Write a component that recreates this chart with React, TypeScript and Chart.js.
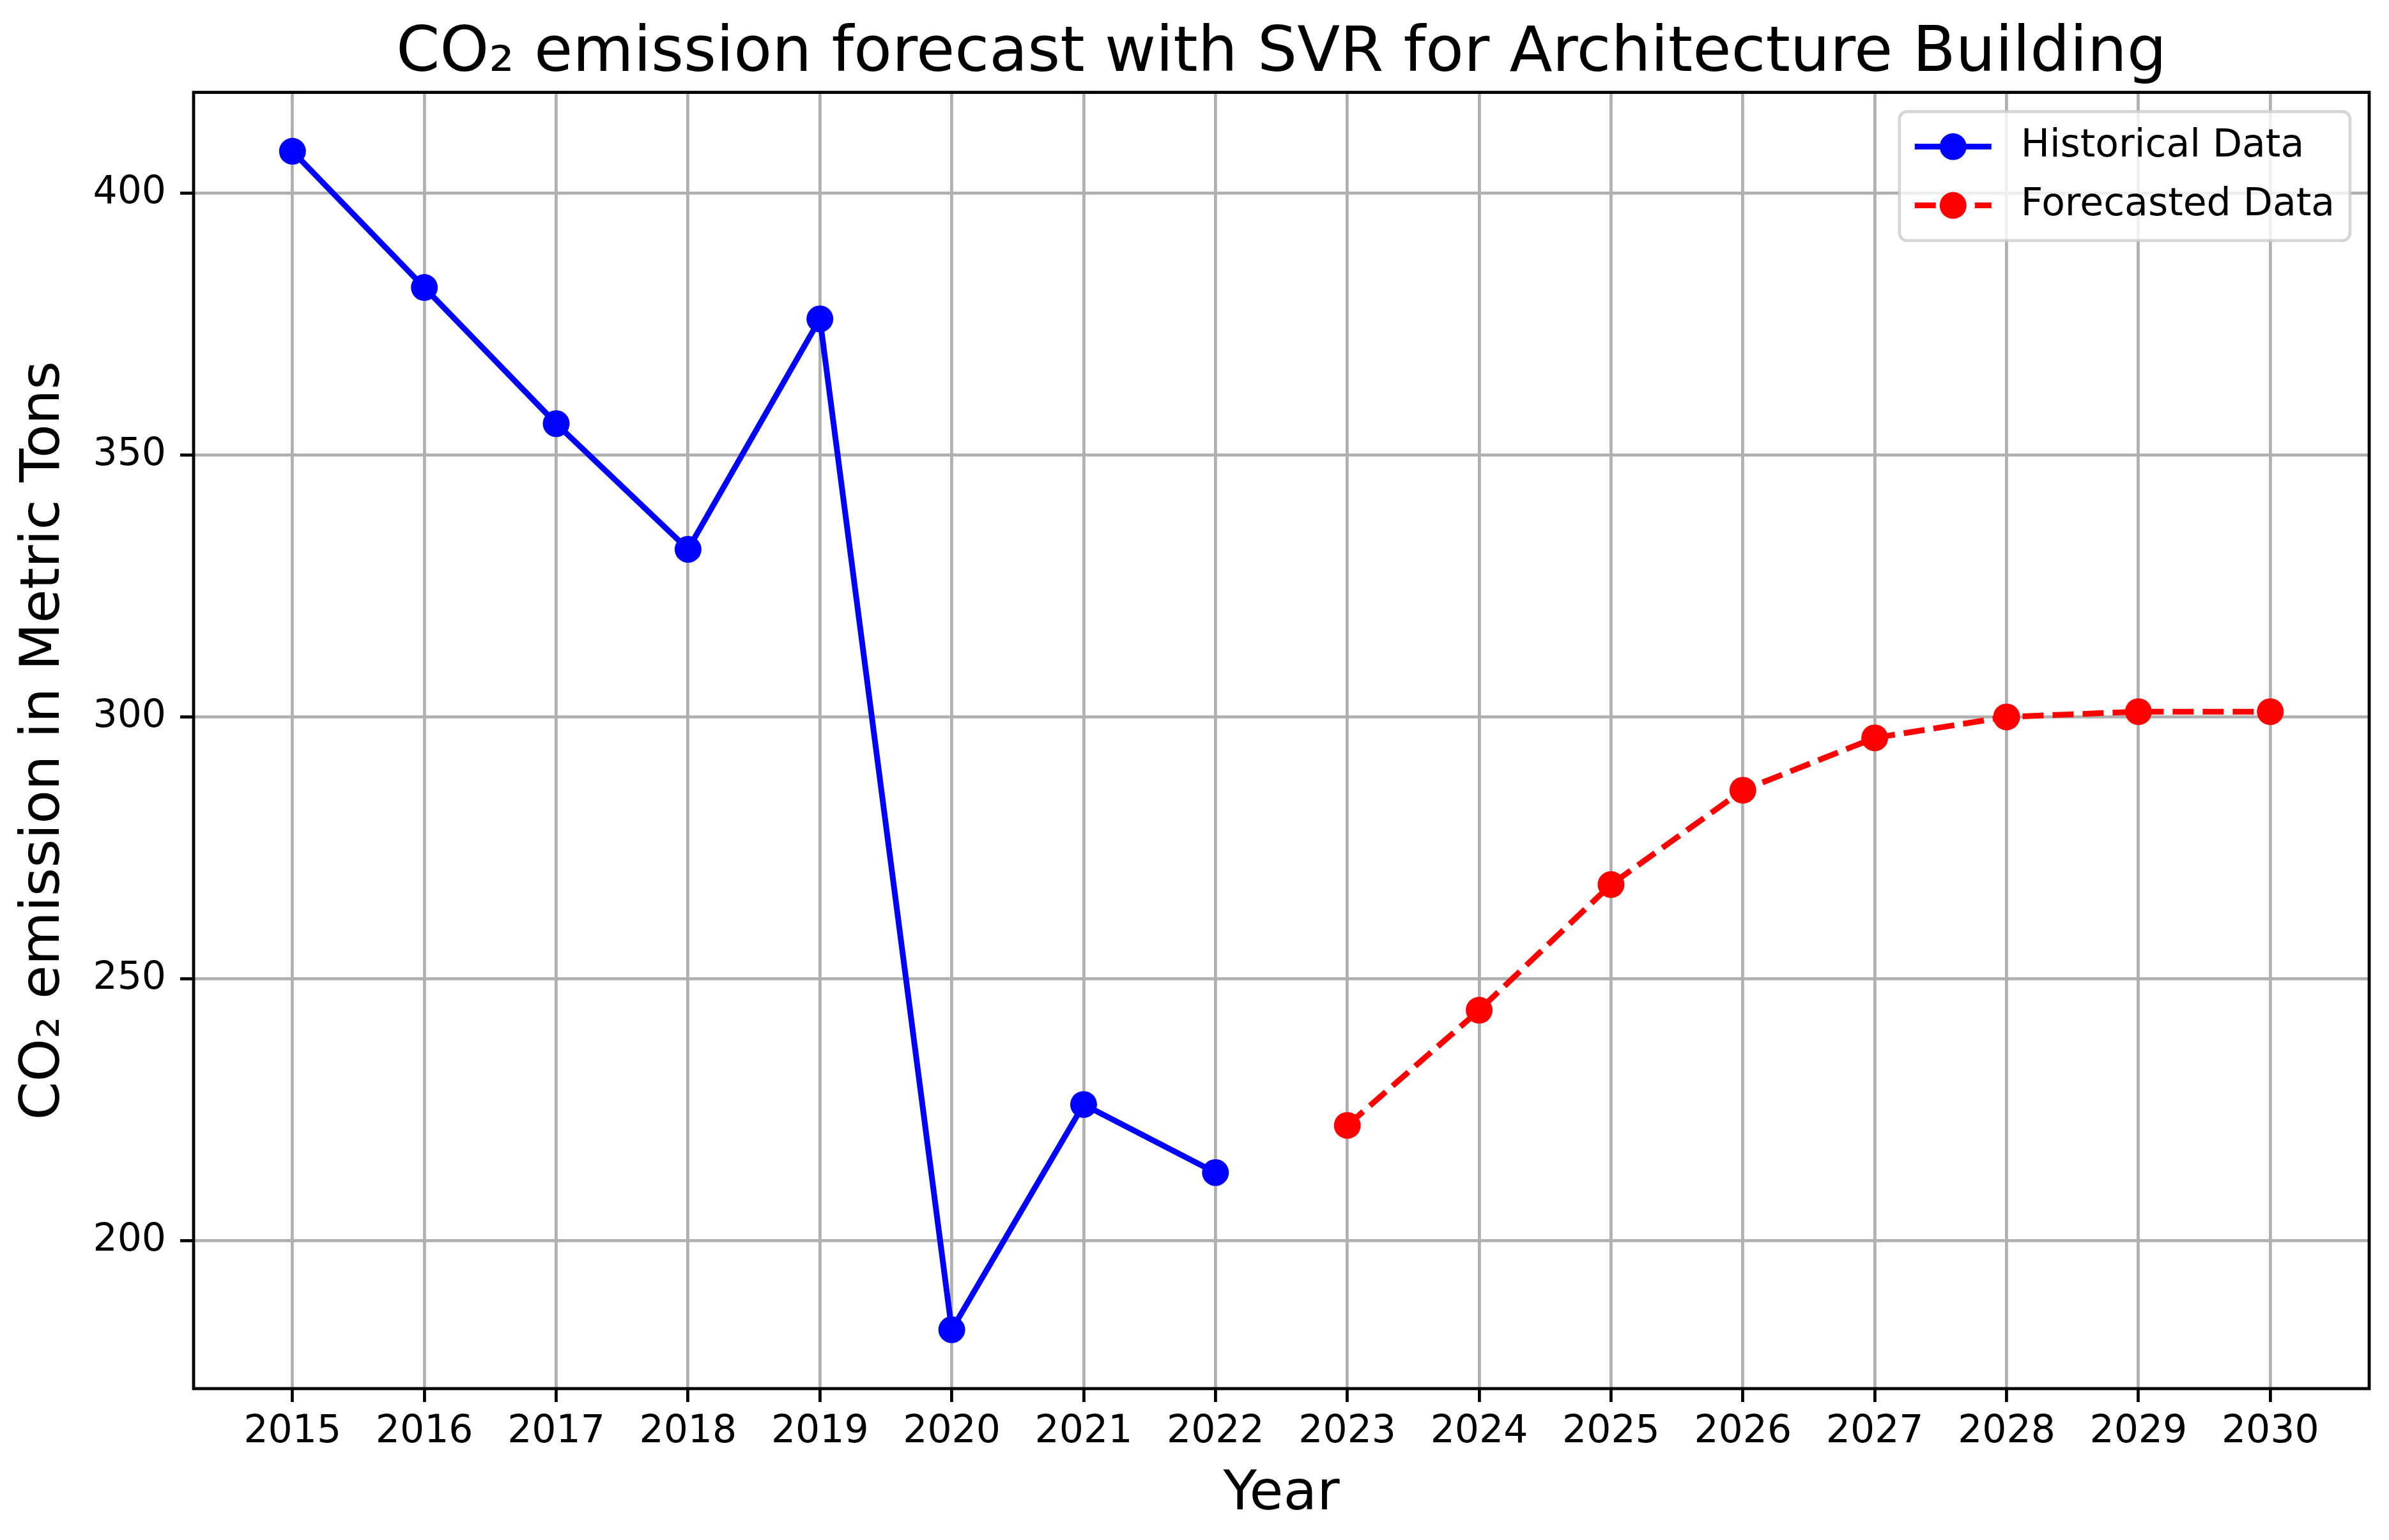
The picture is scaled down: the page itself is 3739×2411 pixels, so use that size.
import React, { useEffect, useRef } from 'react';
import { Chart, registerables } from 'chart.js';

Chart.register(...registerables);

const historicalYears = [2015, 2016, 2017, 2018, 2019, 2020, 2021, 2022];
const historicalValues = [408, 382, 356, 332, 376, 183, 226, 213];
const forecastYears = [2023, 2024, 2025, 2026, 2027, 2028, 2029, 2030];
const forecastValues = [222, 244, 268, 286, 296, 300, 301, 301];
const xTickYears = [2015, 2016, 2017, 2018, 2019, 2020, 2021, 2022, 2023, 2024, 2025, 2026, 2027, 2028, 2029, 2030];
const yTickValues = [200, 250, 300, 350, 400];

const titleText = 'CO\u2082 emission forecast with SVR for Architecture Building';
const xLabel = 'Year';
const yLabel = 'CO\u2082 emission in Metric Tons';
const seriesLabels = ['Historical Data', 'Forecasted Data'];

const W = 3739;
const H = 2411;
const FONT = '"DejaVu Sans", "Liberation Sans", sans-serif';

export default function App() {
  const ref = useRef<HTMLCanvasElement>(null);

  useEffect(() => {
    const canvas = ref.current!;

    const bgPlugin = {
      id: 'bgWhite',
      beforeDraw(chart: any) {
        const { ctx } = chart;
        ctx.save();
        ctx.fillStyle = '#ffffff';
        ctx.fillRect(0, 0, chart.width, chart.height);
        ctx.restore();
      },
    };

    const framePlugin = {
      id: 'axesFrame',
      afterDatasetsDraw(chart: any) {
        const { ctx, chartArea } = chart;
        ctx.save();
        ctx.strokeStyle = '#000000';
        ctx.lineWidth = 4.8;
        ctx.setLineDash([]);
        ctx.strokeRect(chartArea.left, chartArea.top, chartArea.right - chartArea.left, chartArea.bottom - chartArea.top);
        ctx.restore();
      },
    };

    const legendPlugin = {
      id: 'mplLegend',
      afterDraw(chart: any) {
        const { ctx, chartArea } = chart;
        const fs = 60;
        const pad = 24;
        const handleLen = 120;
        const textPad = 46;
        const rowH = 62;
        const rowGap = 30;
        const axPad = 30;
        ctx.save();
        ctx.font = `${fs}px ${FONT}`;
        const items = chart.data.datasets.map((ds: any) => ({
          label: ds.label,
          color: ds.borderColor,
          dash: ds.borderDash || [],
          lw: ds.borderWidth,
          r: ds.pointRadius,
        }));
        const textW = Math.max(...items.map((it: any) => ctx.measureText(it.label).width));
        const w = pad + handleLen + textPad + textW + pad;
        const h = pad * 2 + items.length * rowH + (items.length - 1) * rowGap;
        const x = chartArea.right - axPad - w;
        const y = chartArea.top + axPad;
        const r = 12;
        ctx.beginPath();
        ctx.moveTo(x + r, y);
        ctx.lineTo(x + w - r, y);
        ctx.arcTo(x + w, y, x + w, y + r, r);
        ctx.lineTo(x + w, y + h - r);
        ctx.arcTo(x + w, y + h, x + w - r, y + h, r);
        ctx.lineTo(x + r, y + h);
        ctx.arcTo(x, y + h, x, y + h - r, r);
        ctx.lineTo(x, y + r);
        ctx.arcTo(x, y, x + r, y, r);
        ctx.closePath();
        ctx.fillStyle = 'rgba(255,255,255,0.8)';
        ctx.fill();
        ctx.lineWidth = 4.8;
        ctx.strokeStyle = 'rgba(204,204,204,0.8)';
        ctx.stroke();

        items.forEach((it: any, i: number) => {
          const cy = y + pad + rowH / 2 + i * (rowH + rowGap);
          const hx = x + pad;
          ctx.beginPath();
          ctx.setLineDash(it.dash);
          ctx.lineDashOffset = 0;
          ctx.lineWidth = it.lw;
          ctx.strokeStyle = it.color;
          ctx.moveTo(hx, cy);
          ctx.lineTo(hx + handleLen, cy);
          ctx.stroke();
          ctx.setLineDash([]);
          ctx.beginPath();
          ctx.arc(hx + handleLen / 2, cy, it.r, 0, Math.PI * 2);
          ctx.fillStyle = it.color;
          ctx.fill();
          ctx.fillStyle = '#000000';
          ctx.textAlign = 'left';
          ctx.textBaseline = 'middle';
          ctx.fillText(it.label, hx + handleLen + textPad, cy);
        });
        ctx.restore();
      },
    };

    const chart = new Chart(canvas, {
      type: 'line',
      data: {
        datasets: [
          {
            label: seriesLabels[0],
            data: historicalYears.map((yr, i) => ({ x: yr, y: historicalValues[i] })),
            borderColor: '#0000ff',
            backgroundColor: '#0000ff',
            borderWidth: 9,
            pointRadius: 21,
            pointBorderWidth: 0,
            pointBackgroundColor: '#0000ff',
            tension: 0,
            fill: false,
          },
          {
            label: seriesLabels[1],
            data: forecastYears.map((yr, i) => ({ x: yr, y: forecastValues[i] })),
            borderColor: '#ff0000',
            backgroundColor: '#ff0000',
            borderWidth: 9,
            borderDash: [33, 14],
            pointRadius: 21,
            pointBorderWidth: 0,
            pointBackgroundColor: '#ff0000',
            tension: 0,
            fill: false,
          },
        ],
      },
      options: {
        responsive: false,
        animation: false,
        devicePixelRatio: 1,
        layout: { padding: { left: 0, right: 31, top: 0, bottom: 0 } },
        plugins: {
          legend: { display: false },
          tooltip: { enabled: false },
          title: {
            display: true,
            fullSize: false,
            text: titleText,
            color: '#000000',
            font: { family: FONT, size: 98, weight: 'normal' },
            padding: { top: 27, bottom: 0 },
          },
        },
        scales: {
          x: {
            type: 'linear',
            min: 2014.25,
            max: 2030.75,
            afterBuildTicks: (s: any) => {
              s.ticks = xTickYears.map((v) => ({ value: v }));
            },
            afterFit: (s: any) => {
              s.height = H - 2174;
            },
            ticks: {
              callback: (v: any) => String(v),
              color: '#000000',
              font: { family: FONT, size: 60 },
              padding: 11,
              maxRotation: 0,
              minRotation: 0,
              autoSkip: false,
            },
            grid: {
              color: '#b0b0b0',
              lineWidth: 4.8,
              drawTicks: true,
              tickColor: '#000000',
              tickLength: 21,
              tickWidth: 4.8,
            },
            border: { display: false },
            title: {
              display: true,
              text: xLabel,
              color: '#000000',
              font: { family: FONT, size: 86 },
              padding: { top: 0, bottom: 19 },
            },
          },
          y: {
            type: 'linear',
            min: 171.75,
            max: 419.25,
            afterBuildTicks: (s: any) => {
              s.ticks = yTickValues.map((v) => ({ value: v }));
            },
            afterFit: (s: any) => {
              s.width = 303;
            },
            ticks: {
              callback: (v: any) => String(v),
              color: '#000000',
              font: { family: FONT, size: 60 },
              padding: 22,
            },
            grid: {
              color: '#b0b0b0',
              lineWidth: 4.8,
              drawTicks: true,
              tickColor: '#000000',
              tickLength: 21,
              tickWidth: 4.8,
            },
            border: { display: false },
            title: {
              display: true,
              text: yLabel,
              color: '#000000',
              font: { family: FONT, size: 86 },
              padding: { top: 18, bottom: 0 },
            },
          },
        },
      },
      plugins: [bgPlugin, framePlugin, legendPlugin],
    } as any);

    return () => {
      chart.destroy();
    };
  }, []);

  return (
    <div style={{ position: 'fixed', left: 0, top: 0, width: W, height: H, background: '#ffffff' }}>
      <canvas ref={ref} width={W} height={H} style={{ width: W, height: H, display: 'block' }} />
    </div>
  );
}
